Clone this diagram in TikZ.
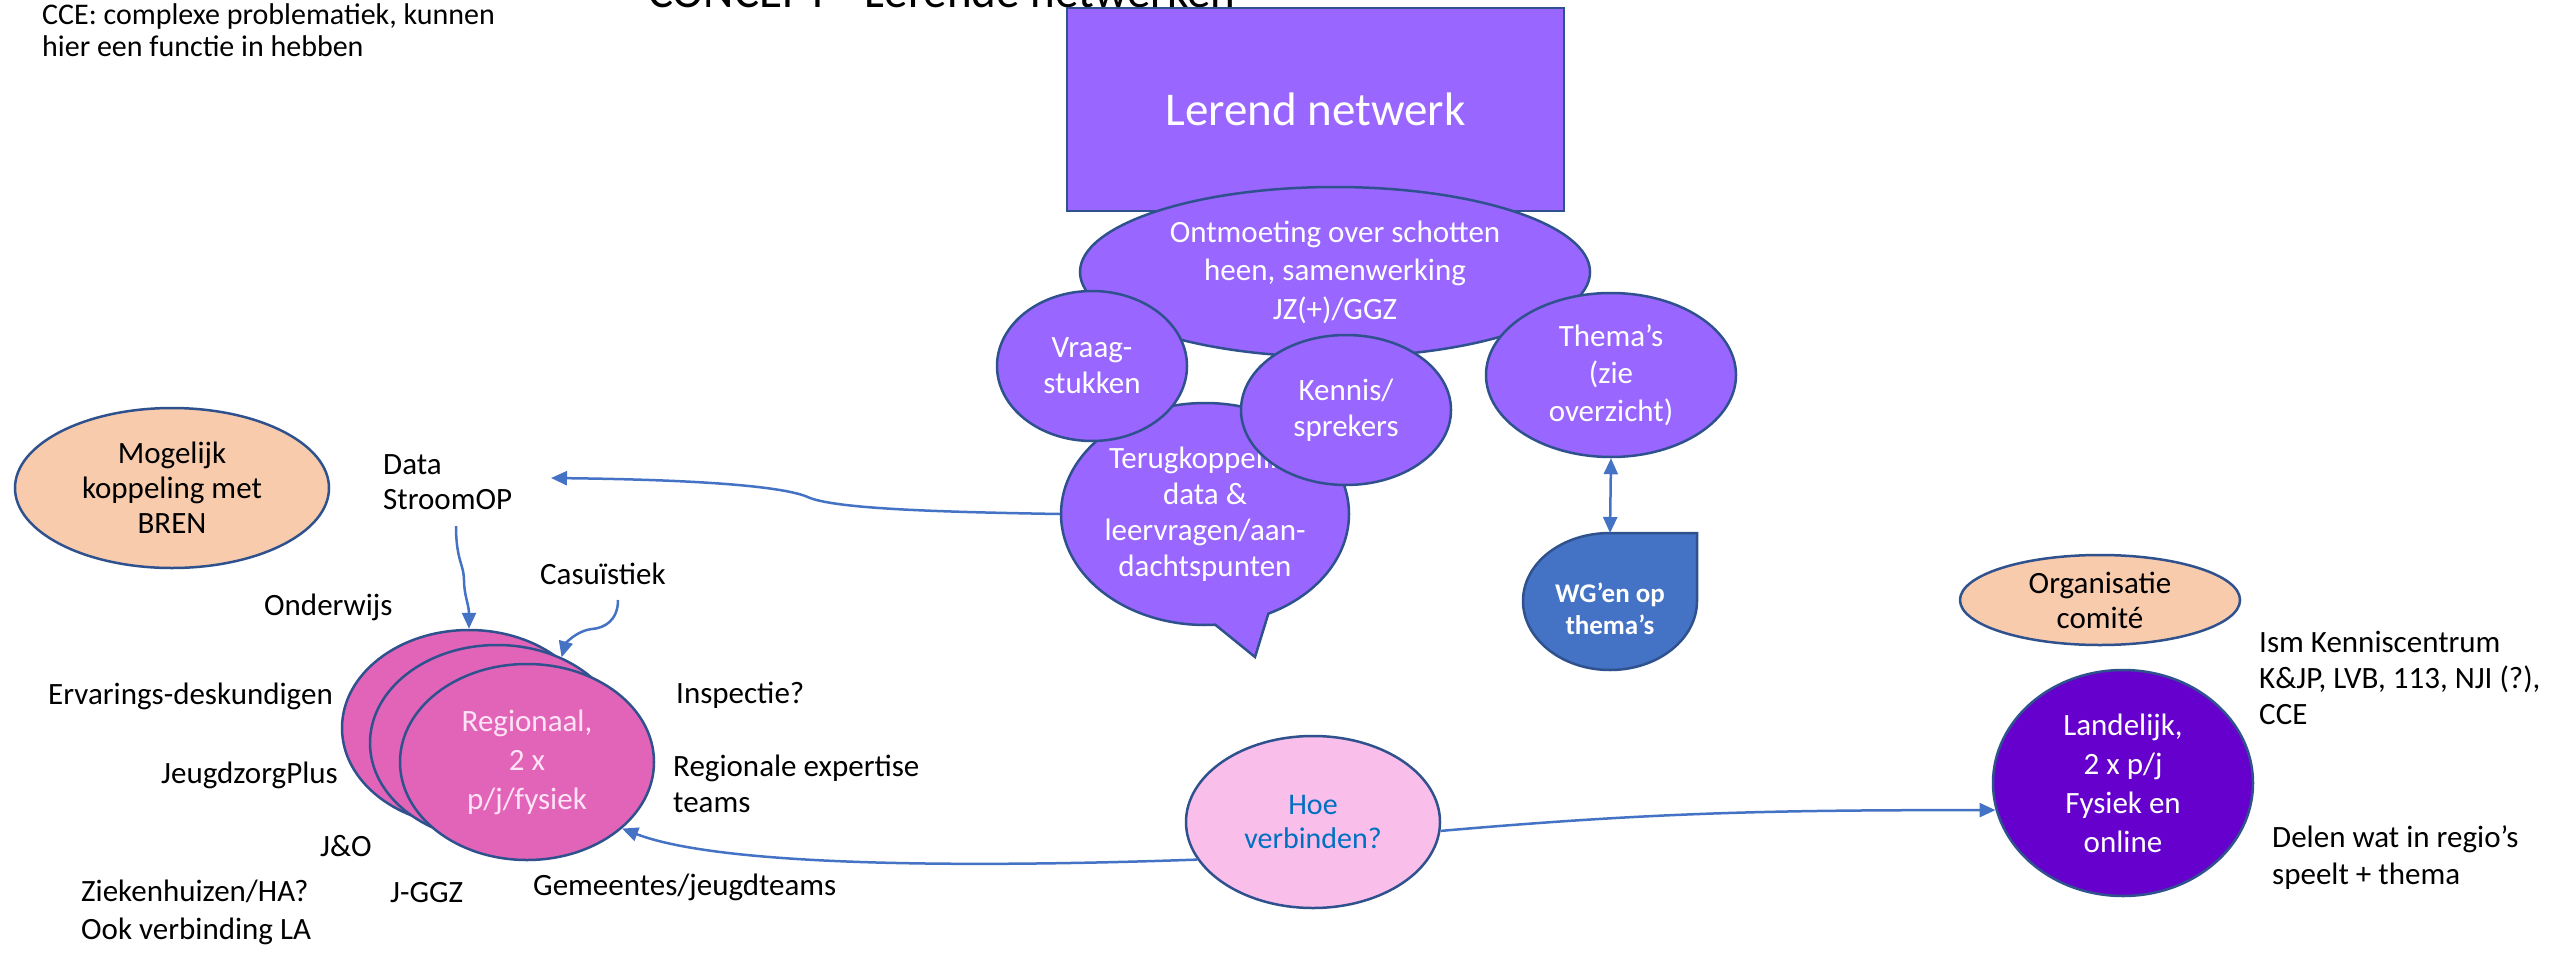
\documentclass[tikz,border=0pt]{standalone}
\usepackage{fontspec}
\setmainfont{Carlito}
\usetikzlibrary{shapes.geometric,shapes.callouts,arrows.meta}
\definecolor{purp}{HTML}{9966FF}
\definecolor{bordc}{HTML}{2F528F}
\definecolor{arrc}{HTML}{4472C4}
\definecolor{regfill}{HTML}{E264B8}
\definecolor{regtxt}{HTML}{FFE3F6}
\definecolor{hoefill}{HTML}{FABEEB}
\definecolor{hoetxt}{HTML}{0070C0}
\definecolor{landc}{HTML}{6600CC}
\definecolor{orng}{HTML}{F8CBAD}
\definecolor{wgc}{HTML}{4472C4}
\newcommand\bodyfont{\fontsize{31}{36}\selectfont}
\tikzset{
  bd/.style={draw=bordc, line width=2.5pt},
  ell/.style={bd, ellipse, inner sep=0pt, align=center, font=\bodyfont},
  pell/.style={ell, fill=purp, text=white},
  lbl/.style={inner sep=0pt, align=left, font=\bodyfont, anchor=west},
  arr/.style={draw=arrc, line width=2.5pt, -{Triangle[length=16pt,width=14pt]}},
  arrtwo/.style={draw=arrc, line width=2.5pt, {Triangle[length=16pt,width=14pt]}-{Triangle[length=16pt,width=14pt]}},
}
\begin{document}
\begin{tikzpicture}[x=1pt,y=-1pt]
\useasboundingbox (0,0) rectangle (2554,953);
\fill[white] (0,0) rectangle (2554,953);

% texts top-left and title
\node[lbl, font=\fontsize{30}{32}\selectfont] (cce) at (42,30) {CCE: complexe problematiek, kunnen\\hier een functie in hebben};
\node[anchor=base west, inner sep=0pt, font=\fontsize{47}{50}\selectfont] (title) at (648,8) {CONCEPT - Lerende netwerken};

% Lerend netwerk block
\node[bd, fill=purp, text=white, minimum width=497pt, minimum height=203pt, inner sep=0pt, font=\fontsize{47}{56}\selectfont] (ln) at (1315.5,109.5) {Lerend netwerk};
\node[pell, minimum width=510pt, minimum height=170pt, font=\fontsize{31}{38.5}\selectfont] (ontm) at (1335,272) {Ontmoeting over schotten\\heen, samenwerking\\JZ(+)/GGZ};
\node[bd, fill=purp, text=white, ellipse callout, callout absolute pointer={(1255,657)}, callout pointer arc=22, minimum width=288pt, minimum height=222pt, inner sep=0pt, align=center, font=\bodyfont] (terug) at (1205,514) {Terugkoppeling\\data \&\\leervragen/aan-\\dachtspunten};
\node[pell, minimum width=190pt, minimum height=150pt] (vraag) at (1092,366) {Vraag-\\stukken};
\node[pell, minimum width=210pt, minimum height=150pt] (kennis) at (1346,410) {Kennis/\\sprekers};
\node[pell, minimum width=250pt, minimum height=164pt, font=\fontsize{31}{37.5}\selectfont] (thema) at (1611,375) {Thema’s\\(zie\\overzicht)};

% WG shape
\coordinate (wgtop) at (1610,533);
\path[bd, fill=wgc] (wgtop) -- (1697,533) -- (1697,601) .. controls (1697,639) and (1658,670) .. (1610,670) .. controls (1562,670) and (1523,639) .. (1523,601) .. controls (1523,563) and (1562,533) .. (wgtop) -- cycle;
\node[text=white, font=\bfseries\fontsize{27}{32}\selectfont, align=center, inner sep=0pt] (wg) at (1610,609) {WG’en op\\thema’s};
\draw[arrtwo] (thema.south) -- (wgtop);

% left side
\node[ell, fill=orng, minimum width=314pt, minimum height=160pt, font=\fontsize{31}{35}\selectfont] (bren) at (172,488) {Mogelijk\\koppeling met\\BREN};
\node[lbl, font=\fontsize{31}{35}\selectfont] (data) at (383,482) {Data\\StroomOP};
\coordinate (dataIn) at (551,478);
\coordinate (dataOut) at (456,526);
\draw[arr] (terug.west) .. controls (940,512) and (840,509) .. (810,498) .. controls (790,488) and (720,480) .. (dataIn);

\node[ell, fill=regfill, minimum width=254pt, minimum height=196pt] (regA) at (469,728) {};
\node[ell, fill=regfill, minimum width=254pt, minimum height=196pt] (regB) at (497,743) {};
\node[ell, fill=regfill, text=regtxt, minimum width=254pt, minimum height=196pt, font=\fontsize{31}{39}\selectfont] (reg) at (527,762) {Regionaal,\\2 x\\p/j/fysiek};

\draw[arr] (dataOut) .. controls (456,560) and (464,565) .. (464,580) .. controls (464,595) and (469,605) .. (regA.north);

\node[lbl] (cas) at (540,574) {Casuïstiek};
\coordinate (casOut) at (618,600);
\draw[arr] (casOut) .. controls (618,620) and (605,628) .. (592,629) .. controls (575,631) and (565,645) .. (regB.53);

\node[lbl] (onder) at (264,607) {Onderwijs};
\node[lbl] (erv) at (48,696) {Ervarings-deskundigen};
\node[lbl] (jzp) at (161,775) {JeugdzorgPlus};
\node[lbl] (jeno) at (320,846) {J\&O};
\node[lbl, font=\fontsize{31}{38}\selectfont] (zieken) at (81,912) {Ziekenhuizen/HA?\\Ook verbinding LA};
\node[lbl] (jggz) at (390,893) {J-GGZ};
\node[lbl] (gem) at (533,887) {Gemeentes/jeugdteams};
\node[lbl] (insp) at (676,695) {Inspectie?};
\node[lbl] (regexp) at (673,784) {Regionale expertise\\teams};

% middle and right
\node[ell, fill=hoefill, text=hoetxt, minimum width=254pt, minimum height=172pt, font=\fontsize{30}{34}\selectfont] (hoe) at (1313,822) {Hoe\\verbinden?};
\node[ell, fill=landc, text=white, minimum width=260pt, minimum height=226pt, font=\fontsize{31}{39}\selectfont] (land) at (2123,783) {Landelijk,\\2 x p/j\\Fysiek en\\online};
\node[ell, fill=orng, minimum width=280pt, minimum height=90pt, font=\fontsize{31}{35}\selectfont] (org) at (2100,600) {Organisatie\\comité};
\node[lbl, font=\fontsize{31}{36}\selectfont] (ism) at (2259,678) {Ism Kenniscentrum\\K\&JP, LVB, 113, NJI (?),\\CCE};
\node[lbl, font=\fontsize{31}{37}\selectfont] (delen) at (2272,858) {Delen wat in regio’s\\speelt + thema};

\draw[arr] (hoe.198) .. controls (960,868) and (720,866) .. (reg.-35);
\draw[arr] (hoe.-4) to[out=5,in=180] (land.192);
\end{tikzpicture}
\end{document}
